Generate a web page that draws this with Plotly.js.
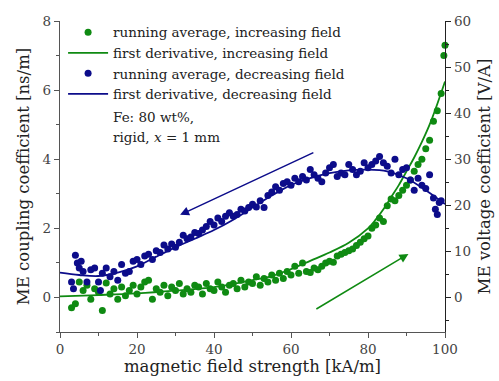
<!DOCTYPE html>
<html>
<head>
<meta charset="utf-8">
<script src="https://cdn.plot.ly/plotly-3.0.1.min.js"></script>
<style>html,body{margin:0;padding:0;background:#fff;}#chart{width:499px;height:381px;}</style>
</head>
<body>
<div id="chart"></div>
<script>
// Running average, increasing field (green dots)
const incX = [3,4,5,6,7,8,9,10,11,12,13,14,15,16,17,18,19,20,21,22,23,24,25,26,27,28,29,30,31,32,33,34,35,36,37,38,39,40,41,42,43,44,45,46,47,48,49,50,51,52,53,54,55,56,57,58,59,60,61,62,63,64,65,66,67,68,69,70,71,72,73,74,75,76,77,78,79,80,81,82,83,84,85,86,87,88,89,90,91,92,93,94,95,96,97,98,99,99.7,100];
const incY = [-0.30,-0.18,0.45,0.20,0.35,-0.05,0.25,0.15,-0.38,0.42,0.10,0.25,-0.05,0.30,0.05,0.20,0.35,0.10,0.30,0.45,0.50,-0.05,0.25,0.15,0.35,0.05,0.30,0.20,0.40,0.10,0.25,0.15,0.35,0.30,0.10,0.40,0.25,0.20,0.45,0.30,0.15,0.35,0.40,0.25,0.50,0.30,0.45,0.40,0.60,0.35,0.55,0.45,0.65,0.50,0.70,0.55,0.75,0.65,0.90,0.70,1.00,0.75,0.72,0.85,0.80,0.90,1.00,1.05,1.02,1.20,1.25,1.30,1.35,1.40,1.50,1.60,1.70,1.78,2.00,2.10,2.30,2.20,2.65,2.85,2.80,2.95,3.10,3.25,3.40,3.65,3.85,4.00,4.30,4.55,5.10,5.40,5.90,7.00,7.30];
// First derivative, increasing field (green line)
const incFitX = [0,10,20,30,40,50,55,60,65,70,75,80,82,84,86,88,90,92,94,96,98,100];
const incFitY = [0.03,0.07,0.12,0.20,0.30,0.50,0.62,0.82,1.06,1.30,1.58,2.00,2.25,2.55,2.90,3.25,3.65,4.05,4.50,5.00,5.60,6.25];
// Running average, decreasing field (blue dots)
const decX = [3,3.5,4,4.5,5,5.5,6,7,8,9,10,10.5,11,12,13,14,15,16,17,18,19,20,21,22,23,24,25,26,27,28,29,30,31,32,33,34,35,36,37,38,39,40,41,42,43,44,45,46,47,48,49,50,51,52,53,54,55,56,57,58,59,60,61,62,63,64,65,66,67,68,69,70,71,72,73,74,75,76,77,78,79,80,81,82,83,84,85,86,87,88,89,90,91,92,93,94,95,96,97,97.5,98,98.5,99];
const decY = [0.45,0.25,1.22,1.00,0.85,1.05,0.75,0.45,0.80,0.85,0.45,0.20,0.70,0.85,0.60,0.75,0.50,0.95,0.70,0.75,1.05,1.10,0.95,1.20,1.25,1.10,1.35,1.30,1.52,1.40,1.55,1.45,1.60,1.80,1.70,1.75,1.88,1.85,1.95,2.05,2.20,2.10,2.30,2.20,2.35,2.45,2.35,2.40,2.55,2.50,2.60,2.70,2.62,2.80,2.60,2.95,3.05,3.20,3.10,3.30,3.35,3.25,3.45,3.35,3.50,3.40,3.70,3.55,3.45,3.35,3.60,3.75,3.85,3.50,3.60,3.55,3.85,3.70,3.55,3.65,3.90,3.75,3.85,3.95,4.08,3.90,3.80,3.60,4.00,3.55,3.70,3.75,3.40,3.10,3.45,3.25,3.15,3.55,2.88,2.55,2.40,2.75,2.80];
// First derivative, decreasing field (blue line)
const decFitX = [0,5,10,15,20,25,30,35,40,45,50,55,60,65,70,75,80,85,90,95,100];
const decFitY = [0.72,0.65,0.62,0.72,0.90,1.18,1.45,1.70,1.95,2.25,2.60,2.95,3.25,3.45,3.60,3.68,3.70,3.65,3.45,3.10,2.70];

const names = ['running average, increasing field','first derivative, increasing field','running average, decreasing field','first derivative, decreasing field'];
const noteLines = ['Fe: 80 wt%,','rigid, <i>x</i> = 1 mm'];
const xTitle = 'magnetic field strength [kA/m]';
const yTitle = 'ME coupling coefficient [ns/m]';
const y2Title = 'ME voltage coefficient [V/A]';

const GREEN = '#0f8a12';
const BLUE = '#0c0c8a';
const FONT = 'DejaVu Serif, Liberation Serif, serif';

const traces = [
  {x: incX, y: incY, mode: 'markers', name: names[0], marker: {color: GREEN, size: 7}, cliponaxis: false},
  {x: incFitX, y: incFitY, mode: 'lines', name: names[1], line: {color: GREEN, width: 1.8, shape: 'spline'}},
  {x: decX, y: decY, mode: 'markers', name: names[2], marker: {color: BLUE, size: 7}, cliponaxis: false},
  {x: decFitX, y: decFitY, mode: 'lines', name: names[3], line: {color: BLUE, width: 1.8, shape: 'spline'}},
  {x: [0, 100], y: [0, 0], yaxis: 'y2', mode: 'lines', line: {width: 0}, showlegend: false, hoverinfo: 'skip'}
];

const layout = {
  width: 499, height: 381,
  margin: {l: 60, r: 54, t: 21, b: 49},
  paper_bgcolor: '#fff', plot_bgcolor: '#fff',
  font: {family: FONT, size: 14, color: '#333'},
  showlegend: true,
  legend: {x: 0.008, y: 1.013, xanchor: 'left', yanchor: 'top', bgcolor: 'rgba(0,0,0,0)', font: {family: FONT, size: 13.5, color: '#222'}, tracegroupgap: 0, itemwidth: 40},
  xaxis: {
    range: [0, 100], dtick: 20, tick0: 0, ticks: 'outside', ticklen: 5, tickcolor: '#555',
    showline: true, linecolor: '#555', linewidth: 1.2, showgrid: false, zeroline: false,
    minor: {dtick: 10, ticks: 'outside', ticklen: 3, tickcolor: '#555'},
    tickfont: {family: FONT, size: 13.5, color: '#444'},
    title: {text: xTitle, font: {family: FONT, size: 16.5, color: '#222'}, standoff: 4}
  },
  yaxis: {
    range: [-1, 8], dtick: 2, tick0: 0, ticks: 'outside', ticklen: 5, tickcolor: '#555',
    showline: true, linecolor: '#555', linewidth: 1.2, showgrid: false, zeroline: false,
    minor: {dtick: 1, ticks: 'outside', ticklen: 3, tickcolor: '#555'},
    tickfont: {family: FONT, size: 13.5, color: '#444'},
    title: {text: yTitle, font: {family: FONT, size: 16.5, color: '#222'}, standoff: 8}
  },
  yaxis2: {
    overlaying: 'y', side: 'right', anchor: 'x',
    range: [-7.5, 60], dtick: 10, tick0: 0, ticks: 'outside', ticklen: 5, tickcolor: '#222',
    showline: true, linecolor: '#222', linewidth: 1.2, showgrid: false, zeroline: false,
    minor: {dtick: 5, ticks: 'outside', ticklen: 3, tickcolor: '#222'},
    tickfont: {family: FONT, size: 13.5, color: '#444'},
    title: {text: y2Title, font: {family: FONT, size: 16.5, color: '#222'}, standoff: 8}
  },
  annotations: [
    {xref: 'x', yref: 'y', axref: 'x', ayref: 'y', x: 31.2, y: 2.39, ax: 66.2, ay: 4.21, text: '', showarrow: true, arrowhead: 2, arrowsize: 1.2, arrowwidth: 1.5, arrowcolor: BLUE},
    {xref: 'x', yref: 'y', axref: 'x', ayref: 'y', x: 90.5, y: 1.26, ax: 66.2, ay: -0.36, text: '', showarrow: true, arrowhead: 2, arrowsize: 1.2, arrowwidth: 1.5, arrowcolor: GREEN},
    {xref: 'paper', yref: 'paper', x: 0.133, y: 0.692, xanchor: 'left', yanchor: 'middle', text: noteLines[0], showarrow: false, font: {family: FONT, size: 13.5, color: '#222'}},
    {xref: 'paper', yref: 'paper', x: 0.133, y: 0.628, xanchor: 'left', yanchor: 'middle', text: noteLines[1], showarrow: false, font: {family: FONT, size: 13.5, color: '#222'}}
  ]
};

Plotly.newPlot('chart', traces, layout, {displayModeBar: false, staticPlot: true});
</script>
</body>
</html>
